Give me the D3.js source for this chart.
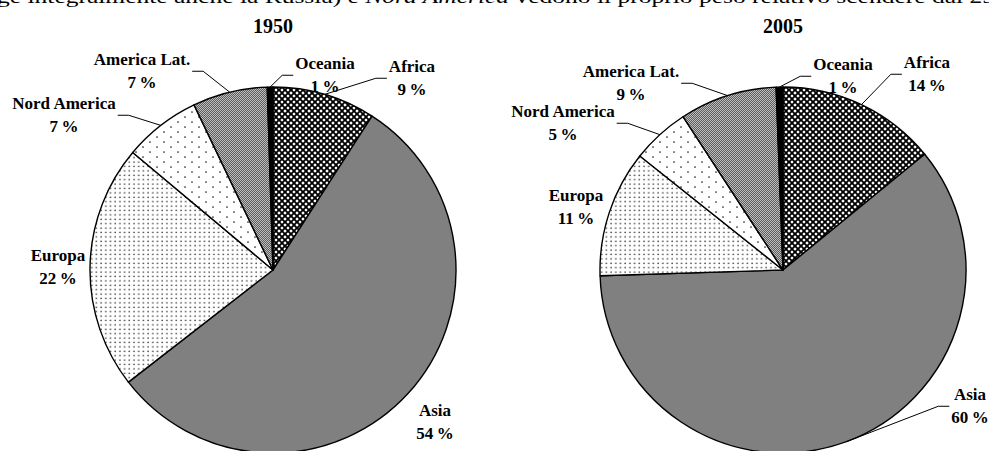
<!DOCTYPE html>
<html>
<head>
<meta charset="utf-8">
<script src="https://cdn.jsdelivr.net/npm/d3@7"></script>
<style>
body { margin: 0; background: #fff; }
svg { display: block; }
</style>
</head>
<body>
<script>
// data
const years = ["1950", "2005"];
const regions = ["Africa", "Asia", "Europa", "Nord America", "America Lat.", "Oceania"];
const share1950 = [9.1, 55.4, 21.6, 6.8, 6.6, 0.5];
const share2005 = [14.1, 60.4, 11.2, 5.1, 8.6, 0.6];
const pct1950 = [9, 54, 22, 7, 7, 1];
const pct2005 = [14, 60, 11, 5, 9, 1];
const leader1950 = [true, false, false, true, true, true];
const leader2005 = [true, true, false, true, true, true];
const topLine = ["ge integralmente anche la Russia) e ", "Nord America", " vedono il proprio peso relativo scendere dal 29"];

// layout (label block centres, first line)
const labelPos1950 = [[412, 66], [435, 410], [58, 255], [64, 103], [142, 59], [325, 63]];
const labelPos2005 = [[927, 62], [970, 394], [576, 195], [563, 111], [631, 71], [843, 64]];

const width = 989, height = 451;
const radius = 183;
const cy = 270;
const lineGap = 22.5;

const svg = d3.select("body").append("svg")
    .attr("width", width)
    .attr("height", height);

const defs = svg.append("defs");

function pattern(id, w, h) {
    return defs.append("pattern")
        .attr("id", id)
        .attr("patternUnits", "userSpaceOnUse")
        .attr("width", w)
        .attr("height", h);
}

// Africa: dark lattice
let pa = pattern("pAfrica", 6, 6);
pa.append("rect").attr("width", 6).attr("height", 6).attr("fill", "#fff");
pa.append("path").attr("d", "M-1,-1L7,7M7,-1L-1,7")
    .attr("stroke", "#000").attr("stroke-width", 1.9);

// Europa: dense dots
let pe = pattern("pEuropa", 4.7, 4.4);
pe.append("rect").attr("width", 4.7).attr("height", 4.4).attr("fill", "#fff");
pe.append("circle").attr("cx", 2).attr("cy", 2).attr("r", 0.75).attr("fill", "#222");

// Nord America: sparse dots
let pn = pattern("pNord", 14, 10);
pn.append("rect").attr("width", 14).attr("height", 10).attr("fill", "#fff");
pn.append("circle").attr("cx", 3).attr("cy", 2).attr("r", 0.85).attr("fill", "#222");
pn.append("circle").attr("cx", 10).attr("cy", 7).attr("r", 0.85).attr("fill", "#222");

// America Lat.: fine checker grey
let pl = pattern("pLat", 2, 2);
pl.append("rect").attr("width", 2).attr("height", 2).attr("fill", "#bdbdbd");
pl.append("rect").attr("width", 1).attr("height", 1).attr("fill", "#5e5e5e");
pl.append("rect").attr("x", 1).attr("y", 1).attr("width", 1).attr("height", 1).attr("fill", "#5e5e5e");

const fills = d3.scaleOrdinal()
    .domain(regions)
    .range(["url(#pAfrica)", "#808080", "url(#pEuropa)", "url(#pNord)", "url(#pLat)", "#000"]);

// cut-off sentence at the top
let headText = svg.append("text")
    .attr("x", -3)
    .attr("y", 3)
    .attr("font-family", "Liberation Serif, serif")
    .attr("font-size", 19)
    .attr("textLength", 998)
    .attr("lengthAdjust", "spacingAndGlyphs");
topLine.forEach(function(t, i) {
    headText.append("tspan").attr("font-style", i == 1 ? "italic" : "normal").text(t);
});

const charts = [
    {year: years[0], shares: share1950, pct: pct1950, leader: leader1950, cx: 273, pos: labelPos1950},
    {year: years[1], shares: share2005, pct: pct2005, leader: leader2005, cx: 783, pos: labelPos2005}
];

const pie = d3.pie().sort(null).value(d => d.value);
const arc = d3.arc().innerRadius(0).outerRadius(radius);

charts.forEach(function(c) {
    let data = regions.map(function(r, i) {
        return {name: r, value: c.shares[i], pct: c.pct[i], leader: c.leader[i], pos: c.pos[i]};
    });

    svg.append("text")
        .attr("x", c.cx)
        .attr("y", 33)
        .attr("text-anchor", "middle")
        .attr("font-family", "Liberation Serif, serif")
        .attr("font-weight", "bold")
        .attr("font-size", 20)
        .text(c.year);

    let g = svg.append("g")
        .attr("transform", "translate(" + c.cx + "," + cy + ")");

    let arcs = pie(data);

    g.selectAll("path")
        .data(arcs)
        .enter()
        .append("path")
        .attr("d", arc)
        .attr("fill", d => fills(d.data.name))
        .attr("stroke", "#000")
        .attr("stroke-width", 1.4)
        .attr("stroke-linejoin", "round");

    arcs.forEach(function(d) {
        let lx = d.data.pos[0], ly = d.data.pos[1];
        let lab = svg.append("g")
            .attr("font-family", "Liberation Serif, serif")
            .attr("font-weight", "bold")
            .attr("font-size", 17)
            .attr("text-anchor", "middle");
        let t1 = lab.append("text").attr("x", lx).attr("y", ly + 6).text(d.data.name);
        let t2 = lab.append("text").attr("x", lx).attr("y", ly + lineGap + 6).text(d.data.pct + "\u2009%");

        if (d.data.leader) {
            let w = Math.max(t1.node().getComputedTextLength(), t2.node().getComputedTextLength());
            let mid = (d.startAngle + d.endAngle) / 2;
            let rx = c.cx + radius * Math.sin(mid);
            let ry = cy - radius * Math.cos(mid);
            let hy = ly + lineGap / 2 + 1;
            let side = lx < rx ? 1 : -1;
            let ex = lx + side * (w / 2 + 2);
            let kx = ex + side * 11;
            svg.append("path")
                .attr("d", "M" + ex + "," + hy + "L" + kx + "," + hy + "L" + rx + "," + ry)
                .attr("fill", "none")
                .attr("stroke", "#000")
                .attr("stroke-width", 1);
        }
    });
});
</script>
</body>
</html>
